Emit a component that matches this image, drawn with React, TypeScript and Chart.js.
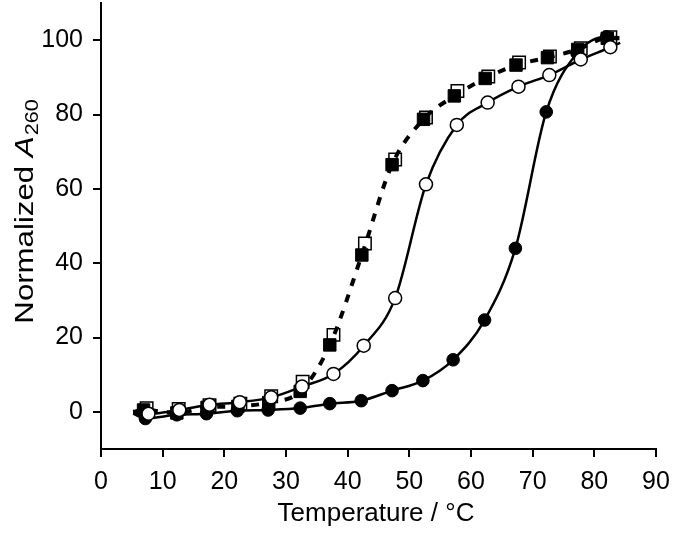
import React, { useEffect, useRef } from 'react';
import { Chart, registerables } from 'chart.js';

Chart.register(...registerables);

// Filled circles (solid line)
const filledCircleX = [7.2, 12.3, 17.1, 22.1, 27.1, 32.3, 37.1, 42.2, 47.2, 52.2, 57.1, 62.2, 67.2, 72.2, 77.2, 82.0];
const filledCircleY = [-1.8, -0.8, -0.5, 0.3, 0.5, 1.0, 2.2, 3.0, 5.7, 8.4, 14.0, 24.7, 44.0, 80.7, 96.5, 100.9];
const filledCircleEnds = [[5.2, -0.5], [84.0, 100.8]];

// Open circles (solid line)
const openCircleX = [7.7, 12.7, 17.6, 22.5, 27.6, 32.6, 37.7, 42.6, 47.7, 52.7, 57.7, 62.7, 67.7, 72.7, 77.8, 82.6];
const openCircleY = [-0.5, 0.5, 1.9, 2.6, 3.9, 6.8, 10.2, 17.8, 30.6, 61.2, 77.2, 83.2, 87.5, 90.6, 94.8, 98.1];
const openCircleEnds = [[5.2, -0.3], [84.2, 99.3]];

// Filled squares (dashed line)
const filledSquareX = [6.9, 12.3, 17.2, 22.2, 27.2, 32.3, 37.1, 42.3, 47.2, 52.3, 57.3, 62.3, 67.3, 72.4, 77.3, 82.1];
const filledSquareY = [0.5, -0.3, 1.2, 1.5, 2.5, 5.5, 18.0, 42.2, 66.5, 78.7, 85.0, 89.7, 93.3, 95.3, 97.5, 100.5];
const filledSquareEnds = [[5.2, 0.0], [85.0, 100.5]];

// Open squares (no own line)
const openSquareX = [7.4, 12.6, 17.6, 22.6, 27.6, 32.7, 37.7, 42.8, 47.7, 52.7, 57.8, 62.8, 67.8, 72.8, 77.8, 82.6];
const openSquareY = [1.0, 0.8, 1.8, 2.2, 4.2, 8.1, 20.7, 45.3, 67.9, 79.2, 86.3, 90.2, 94.0, 95.6, 97.8, 100.8];

const xTicks = [0, 10, 20, 30, 40, 50, 60, 70, 80, 90];
const yTicks = [0, 20, 40, 60, 80, 100];

const FONT = '"Liberation Sans", Arial, Helvetica, sans-serif';

function withEnds(xs: number[], ys: number[], ends?: number[][]) {
  const pts = xs.map((x, i) => ({ x, y: ys[i] }));
  if (!ends) return pts;
  return [{ x: ends[0][0], y: ends[0][1] }, ...pts, { x: ends[1][0], y: ends[1][1] }];
}

const titlesPlugin = {
  id: 'titles',
  afterDraw(chart: any) {
    const ctx = chart.ctx as CanvasRenderingContext2D;
    ctx.save();
    ctx.fillStyle = '#000';
    // x title
    ctx.font = `26px ${FONT}`;
    ctx.textAlign = 'center';
    ctx.textBaseline = 'alphabetic';
    ctx.fillText('Temperature / °C', 376, 521);
    // y title
    ctx.translate(33, 212);
    ctx.rotate(-Math.PI / 2);
    ctx.scale(1.2, 1);
    ctx.textAlign = 'left';
    const f1 = `26px ${FONT}`;
    const f2 = `italic 26px ${FONT}`;
    const f3 = `18px ${FONT}`;
    ctx.font = f1;
    const w1 = ctx.measureText('Normalized ').width;
    ctx.font = f2;
    const w2 = ctx.measureText('A').width;
    ctx.font = f3;
    const w3 = ctx.measureText('260').width;
    let x = -(w1 + w2 + w3) / 2;
    ctx.font = f1;
    ctx.fillText('Normalized ', x, 0);
    x += w1;
    ctx.font = f2;
    ctx.fillText('A', x, 0);
    x += w2 + 1;
    ctx.font = f3;
    ctx.fillText('260', x, 5);
    ctx.restore();
  },
};

export default function App() {
  const ref = useRef<HTMLCanvasElement | null>(null);
  useEffect(() => {
    document.body.style.margin = '0';
    const canvas = ref.current;
    if (!canvas) return;
    const endRadius = (r: number) => (c: any) =>
      c.dataIndex === 0 || c.dataIndex === c.dataset.data.length - 1 ? 0 : r;
    const chart = new Chart(canvas, {
      type: 'scatter',
      data: {
        datasets: [
          {
            data: withEnds(openCircleX, openCircleY, openCircleEnds),
            showLine: true,
            borderColor: '#000',
            borderWidth: 2.5,
            cubicInterpolationMode: 'monotone',
            pointStyle: 'circle',
            pointRadius: endRadius(6.5),
            pointBackgroundColor: '#fff',
            pointBorderColor: '#000',
            pointBorderWidth: 1.5,
            order: 1,
          },
          {
            data: withEnds(filledCircleX, filledCircleY, filledCircleEnds),
            showLine: true,
            borderColor: '#000',
            borderWidth: 2.5,
            cubicInterpolationMode: 'monotone',
            pointStyle: 'circle',
            pointRadius: endRadius(6.3),
            pointBackgroundColor: '#000',
            pointBorderColor: '#000',
            pointBorderWidth: 1,
            order: 2,
          },
          {
            data: withEnds(filledSquareX, filledSquareY, filledSquareEnds),
            showLine: true,
            borderColor: '#000',
            borderWidth: 4,
            borderDash: [8, 9],
            cubicInterpolationMode: 'monotone',
            pointStyle: 'rect',
            pointRadius: endRadius(8.8),
            pointBackgroundColor: '#000',
            pointBorderColor: '#000',
            pointBorderWidth: 1,
            order: 3,
          },
          {
            data: withEnds(openSquareX, openSquareY),
            showLine: false,
            pointStyle: 'rect',
            pointRadius: 8.8,
            pointBackgroundColor: '#fff',
            pointBorderColor: '#000',
            pointBorderWidth: 1.5,
            order: 4,
          },
        ],
      },
      options: {
        responsive: false,
        animation: false,
        events: [],
        layout: { autoPadding: false, padding: { top: 3, right: 23, left: 0, bottom: 0 } },
        plugins: { legend: { display: false }, tooltip: { enabled: false } },
        scales: {
          x: {
            type: 'linear',
            min: 0,
            max: 90,
            afterBuildTicks: (s: any) => {
              s.ticks = xTicks.map((v) => ({ value: v }));
            },
            afterFit: (s: any) => {
              s.height = 87;
              s.paddingLeft = 0;
              s.paddingRight = 0;
            },
            grid: { drawOnChartArea: false, drawTicks: true, tickLength: 8, color: '#000', lineWidth: 2 },
            border: { display: true, color: '#000', width: 2 },
            ticks: { color: '#000', font: { family: FONT, size: 25 }, padding: 10, maxRotation: 0, autoSkip: false },
          },
          y: {
            type: 'linear',
            min: -10,
            max: 110,
            afterBuildTicks: (s: any) => {
              s.ticks = yTicks.map((v) => ({ value: v }));
            },
            afterFit: (s: any) => {
              s.width = 101;
              s.paddingTop = 0;
              s.paddingBottom = 0;
            },
            grid: { drawOnChartArea: false, drawTicks: true, tickLength: 8, color: '#000', lineWidth: 2 },
            border: { display: true, color: '#000', width: 2 },
            ticks: { color: '#000', font: { family: FONT, size: 25 }, padding: 10, autoSkip: false },
          },
        },
      },
      plugins: [titlesPlugin],
    } as any);
    return () => chart.destroy();
  }, []);
  return (
    <div style={{ width: 679, height: 536 }}>
      <canvas ref={ref} width={679} height={536} />
    </div>
  );
}
